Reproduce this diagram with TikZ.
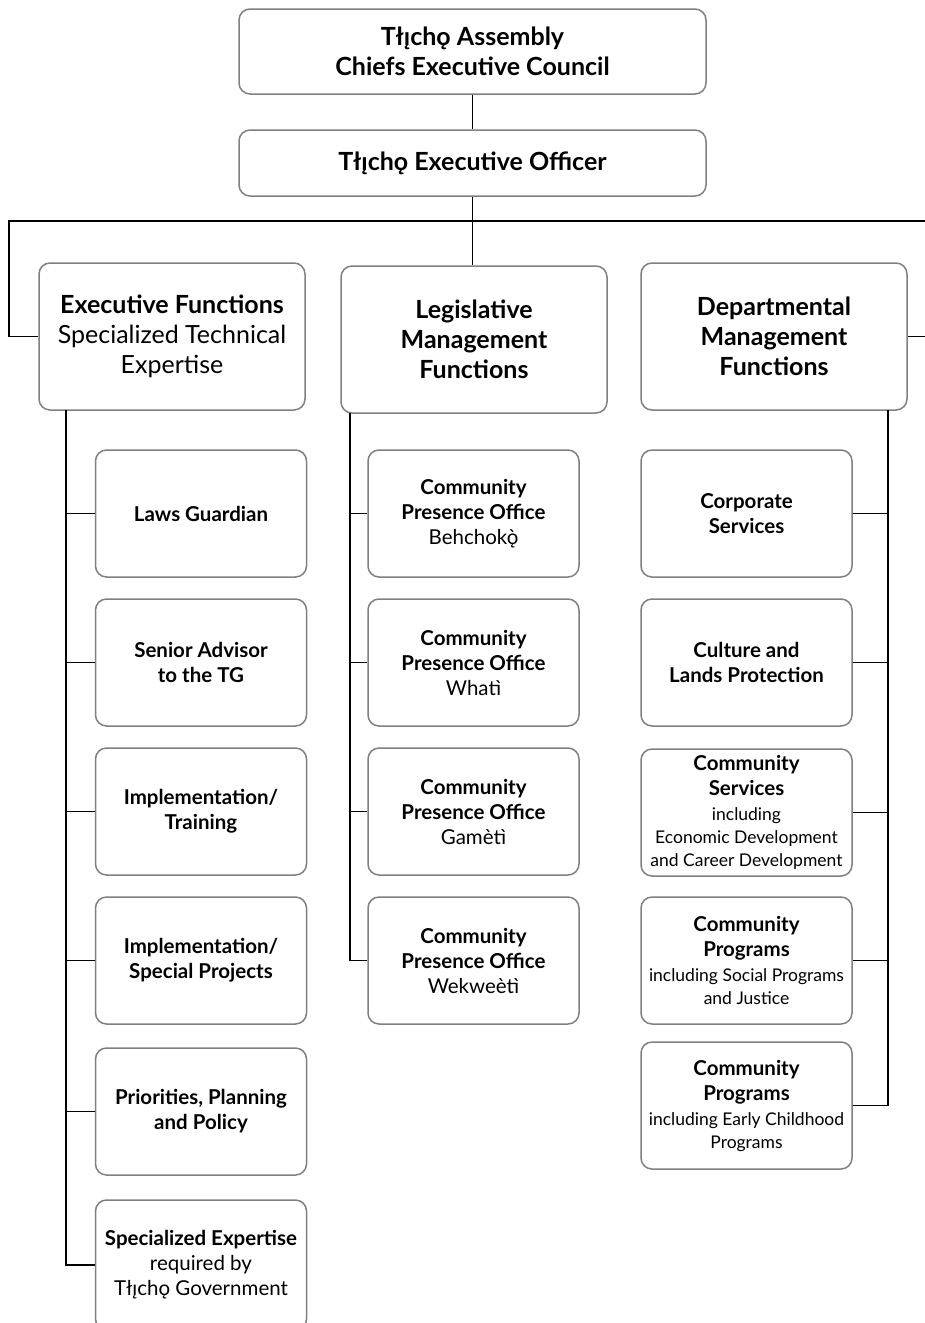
\documentclass[tikz,border=0pt]{standalone}
\usepackage{fontspec}
\setmainfont{Lato}
\definecolor{boxgray}{HTML}{808080}
\newcommand\smalltxt{\fontsize{17.5}{23}\selectfont}
\begin{document}
\begin{tikzpicture}[x=1pt,y=-1pt,
  box/.style={draw=boxgray, line width=1.5pt, rounded corners=11pt, align=center, inner sep=0pt, fill=white},
  topbox/.style={box, minimum width=467pt, font=\fontsize{25}{30}\selectfont},
  headbox/.style={box, minimum width=266pt, minimum height=147pt, font=\fontsize{25}{30}\selectfont},
  childbox/.style={box, minimum width=211pt, minimum height=127pt, font=\fontsize{20.5}{25}\selectfont},
  conn/.style={draw=black, line width=1.9pt}
]
\clip (0,0) rectangle (925,1323);
\fill[white] (0,0) rectangle (925,1323);

% top
\node[topbox, minimum height=85pt] (assembly) at (472.5,51.5) {\bfseries Tłı̨chǫ Assembly\\\bfseries Chiefs Executive Council};
\node[topbox, minimum height=66pt] (officer) at (472.5,163) {\bfseries Tłı̨chǫ Executive Officer};

% heads
\node[headbox] (exec) at (172,336.5) {\bfseries Executive Functions\\Specialized Technical\\Expertise};
\node[headbox] (legis) at (474,339.5) {\bfseries Legislative\\\bfseries Management\\\bfseries Functions};
\node[headbox] (dept) at (774,336.5) {\bfseries Departmental\\\bfseries Management\\\bfseries Functions};

% connectors top
\draw[conn] (assembly.south) -- (officer.north);
\draw[conn] (officer.south) -- (officer.south |- legis.north);
\coordinate (hl) at (9,221);
\coordinate (hr) at (930,221);
\draw[conn] (hr) -- (hl) |- (exec.west);
\draw[conn] (hr) |- (dept.east);

% children
\begin{scope}[every node/.style={childbox}]
\node (e1) at (201,513.5) {\bfseries Laws Guardian};
\node (e2) at (201,662.5) {\bfseries Senior Advisor\\\bfseries to the TG};
\node (e3) at (201,811.5) {\bfseries Implementation/\\\bfseries Training};
\node (e4) at (201,960.5) {\bfseries Implementation/\\\bfseries Special Projects};
\node (e5) at (201,1111.5) {\bfseries Priorities, Planning\\\bfseries and Policy};
\node[minimum height=130pt] (e6) at (201,1265) {\bfseries Specialized Expertise\\required by\\Tłı̨chǫ Government};

\node (l1) at (473.5,513.5) {\bfseries Community\\\bfseries Presence Office\\Behchokǫ̀};
\node (l2) at (473.5,662.5) {\bfseries Community\\\bfseries Presence Office\\Whatì};
\node (l3) at (473.5,811.5) {\bfseries Community\\\bfseries Presence Office\\Gamètì};
\node (l4) at (473.5,960.5) {\bfseries Community\\\bfseries Presence Office\\Wekweètì};

\node (d1) at (746.5,513.5) {\bfseries Corporate\\\bfseries Services};
\node (d2) at (746.5,662.5) {\bfseries Culture and\\\bfseries Lands Protection};
\node (d3) at (746.5,812.5) {\bfseries Community\\\bfseries Services\\{\smalltxt including}\\[-2pt]{\smalltxt Economic Development}\\[-2pt]{\smalltxt and Career Development}};
\node (d4) at (746.5,960.5) {\bfseries Community\\\bfseries Programs\\{\smalltxt including Social Programs}\\[-2pt]{\smalltxt and Justice}};
\node (d5) at (746.5,1105.5) {\bfseries Community\\\bfseries Programs\\{\smalltxt including Early Childhood}\\[-2pt]{\smalltxt Programs}};
\end{scope}

% left tree
\coordinate (et) at (66,410);
\draw[conn] (et) |- (e6.west);
\foreach \n in {e1,e2,e3,e4,e5} \draw[conn] (66,0 |- \n.west) -- (\n.west);

% middle tree
\coordinate (lt) at (350,413);
\draw[conn] (lt) |- (l4.west);
\foreach \n in {l1,l2,l3} \draw[conn] (350,0 |- \n.west) -- (\n.west);

% right tree
\coordinate (dt) at (888,410);
\draw[conn] (dt) |- (d5.east);
\foreach \n in {d1,d2,d3,d4} \draw[conn] (888,0 |- \n.east) -- (\n.east);
\end{tikzpicture}
\end{document}
